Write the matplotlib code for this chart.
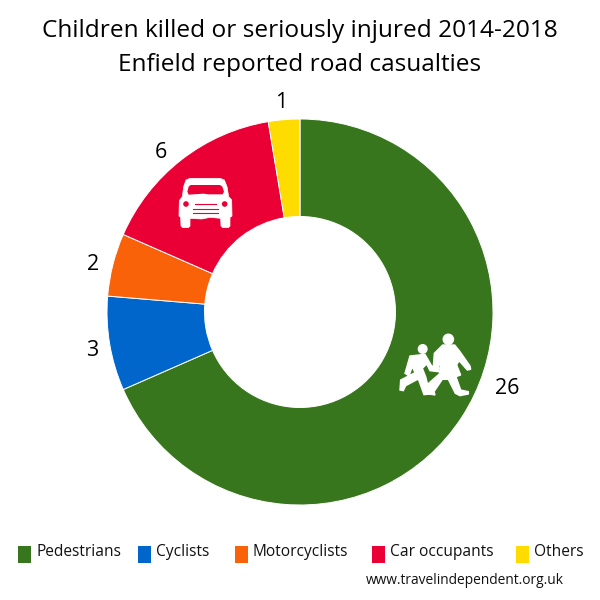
import matplotlib
matplotlib.use('Agg')
import matplotlib.pyplot as plt
from matplotlib.patches import Polygon, Circle, Rectangle

plt.rcParams['font.family'] = ['Open Sans', 'DejaVu Sans']

categories = ['Pedestrians', 'Cyclists', 'Motorcyclists', 'Car occupants', 'Others']
values = [26, 3, 2, 6, 1]
colours = ['#38761d', '#0066cc', '#f96209', '#ea0034', '#ffdc00']
title_lines = ['Children killed or seriously injured 2014-2018', 'Enfield reported road casualties']
source = 'www.travelindependent.org.uk'

H = 600
fig = plt.figure(figsize=(6, 6), dpi=100)
ax = fig.add_axes([0, 0, 1, 1])

# pie in pixel units so it sits where the reference has it
wedges, _ = ax.pie(values, colors=colours, startangle=90, counterclock=False,
                   radius=193, center=(300, H - 312), frame=True,
                   wedgeprops=dict(width=97.5, edgecolor='white', linewidth=0.7))
ax.set_xlim(0, 600)
ax.set_ylim(0, 600)
ax.axis('off')


def pts(zoom, x0, y0):
    # zoom crops were 3x, turn back into figure pixels
    return [(x0 + x / 3, H - (y0 + y / 3)) for x, y in zoom]


# title
ax.text(300, H - 31, title_lines[0], ha='center', va='center', fontsize=17.55, color='black')
ax.text(300, H - 65, title_lines[1], ha='center', va='center', fontsize=17.55, color='black')

# value labels
label_pos = [(507, 388), (92, 351), (93, 264), (161, 152), (281, 103)]
for v, (x, y) in zip(values, label_pos):
    ax.text(x, H - y, str(v), ha='center', va='center', fontsize=15.5, color='black')

# car icon
car = [(180, 145), (270, 145), (283, 150), (291, 170), (296, 200), (305, 210), (306, 258), (300, 262),
       (300, 288), (295, 293), (278, 293), (273, 288), (272, 265), (240, 262), (215, 267), (180, 265),
       (180, 288), (175, 293), (158, 293), (153, 288), (152, 262), (147, 258), (148, 212), (157, 200),
       (161, 170), (168, 150)]
ax.add_patch(Polygon(pts(car, 130, 130), fc='white', ec='white', lw=0.5, zorder=5))
screen = [(172, 185), (176, 170), (182, 165), (270, 165), (277, 170), (282, 185), (278, 193),
          (235, 193), (220, 191), (176, 194)]
ax.add_patch(Polygon(pts(screen, 130, 130), fc=colours[3], ec='none', zorder=6))
for cx in [168, 284]:
    ax.add_patch(Circle(pts([(cx, 222)], 130, 130)[0], 2.8, fc=colours[3], ec='none', zorder=6))
for y, a, b in [(222, 195, 258), (238, 190, 264), (250, 190, 264)]:
    p = pts([(a, y), (b, y)], 130, 130)
    ax.plot([p[0][0], p[1][0]], [p[0][1], p[1][1]], color=colours[3], lw=0.8, zorder=6)

# children icon
big = [(188, 105), (224, 105), (240, 125), (270, 168), (272, 178), (262, 180), (237, 152),
       (230, 165), (242, 195), (228, 200), (242, 240), (265, 245), (265, 252), (240, 257),
       (226, 250), (205, 208), (187, 208), (162, 245), (165, 255), (135, 250), (140, 225),
       (178, 192), (184, 150), (172, 178), (160, 170), (163, 130)]
small = [(90, 138), (135, 133), (155, 168), (178, 173), (175, 185), (150, 182), (140, 162),
         (127, 175), (137, 200), (150, 252), (132, 254), (115, 207), (77, 227), (70, 242),
         (60, 240), (62, 210), (105, 188), (97, 170), (87, 197), (75, 190)]
ax.add_patch(Polygon(pts(big, 380, 310), fc='white', ec='white', lw=1, zorder=5))
ax.add_patch(Polygon(pts(small, 380, 310), fc='white', ec='white', lw=1, zorder=5))
ax.add_patch(Circle(pts([(205, 88)], 380, 310)[0], 5.8, fc='white', ec='none', zorder=5))
ax.add_patch(Circle(pts([(128, 117)], 380, 310)[0], 5, fc='white', ec='none', zorder=5))

# legend, spacing is uneven in the original so placed by hand
swatch_x = [18, 138, 235, 372, 516]
for name, c, x in zip(categories, colours, swatch_x):
    ax.add_patch(Rectangle((x, H - 563), 13, 17, fc=c, ec='none'))
    ax.text(x + 18, H - 551.5, name, ha='left', va='center', fontsize=11.2, color='#111111')

ax.text(366, H - 580, source, ha='left', va='center', fontsize=9.95, color='#111111')

fig.savefig('out.png', dpi=100)
